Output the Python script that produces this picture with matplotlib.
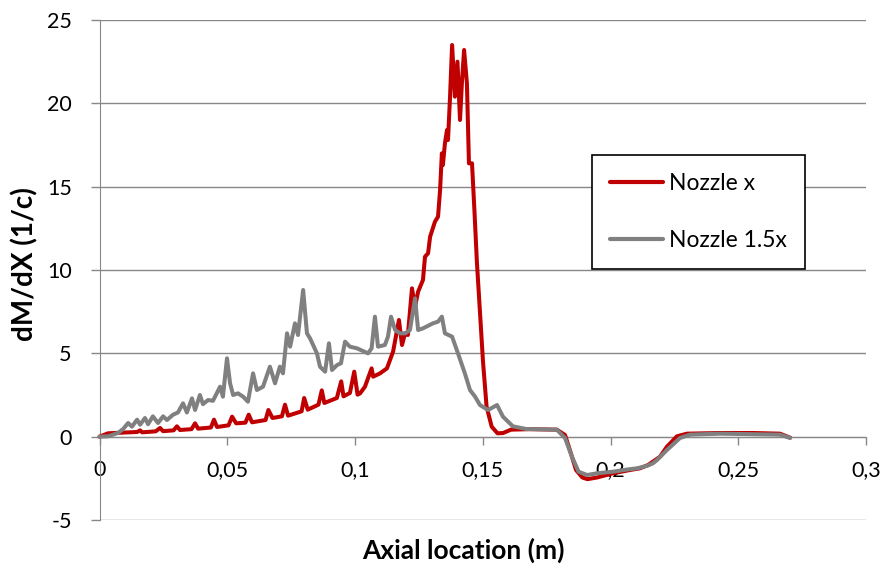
import matplotlib
matplotlib.use("Agg")
import matplotlib.pyplot as plt

plt.rcParams['font.family'] = ['Lato', 'DejaVu Sans']
plt.rcParams['axes.unicode_minus'] = False

# Axial location (m) for each series
x_nozzle = [0.0, 0.0033, 0.0100, 0.0147, 0.0159, 0.0167, 0.0220, 0.0237, 0.0249, 0.0290,
            0.0303, 0.0315, 0.0360, 0.0374, 0.0386, 0.0436, 0.0448, 0.0460, 0.0505, 0.0519,
            0.0535, 0.0571, 0.0584, 0.0597, 0.0650, 0.0661, 0.0677, 0.0714, 0.0726, 0.0738,
            0.0791, 0.0801, 0.0815, 0.0857, 0.0870, 0.0880, 0.0929, 0.0946, 0.0955, 0.0980,
            0.0997, 0.1010, 0.1020, 0.1039, 0.1065, 0.1071, 0.1098, 0.1125, 0.1137, 0.1149,
            0.1172, 0.1184, 0.1196, 0.1207, 0.1223, 0.1235, 0.1247, 0.1266, 0.1274, 0.1286,
            0.1294, 0.1313, 0.1325, 0.1333, 0.1340, 0.1344, 0.1352, 0.1360, 0.1364, 0.1372,
            0.1380, 0.1391, 0.1401, 0.1411, 0.1419, 0.1427, 0.1438, 0.1446, 0.1458, 0.1468,
            0.1477, 0.1489, 0.1501, 0.1515, 0.1535, 0.1558, 0.1580, 0.1610, 0.1685, 0.1790,
            0.1822, 0.1845, 0.1865, 0.1890, 0.1910, 0.1947, 0.2010, 0.2076, 0.2115, 0.2147,
            0.2166, 0.2194, 0.2221, 0.2260, 0.2299, 0.2429, 0.2558, 0.2663, 0.2703]
y_nozzle = [0.0, 0.20, 0.25, 0.28, 0.38, 0.26, 0.32, 0.52, 0.33, 0.38,
            0.62, 0.40, 0.45, 0.80, 0.48, 0.55, 1.02, 0.58, 0.68, 1.20,
            0.80, 0.84, 1.32, 0.86, 1.00, 1.60, 1.12, 1.22, 1.92, 1.26,
            1.52, 2.32, 1.62, 1.92, 2.78, 2.02, 2.32, 3.32, 2.42, 2.62,
            3.90, 2.52, 2.60, 3.00, 4.10, 3.60, 3.80, 4.10, 4.60, 5.10,
            7.00, 5.50, 6.20, 6.10, 8.90, 7.80, 8.70, 9.40, 10.8, 11.0,
            12.0, 12.9, 13.2, 14.8, 17.0, 16.3, 17.6, 18.4, 17.8, 20.4,
            23.5, 20.4, 22.5, 19.0, 21.4, 23.2, 21.2, 16.4, 16.4, 13.4,
            10.5, 7.50, 4.50, 1.80, 0.60, 0.20, 0.22, 0.42, 0.45, 0.42,
            0.10, -1.0, -2.0, -2.45, -2.55, -2.45, -2.2, -2.0, -1.9, -1.7,
            -1.5, -1.2, -0.6, 0.02, 0.18, 0.22, 0.22, 0.18, -0.06]

x_nozzle15 = [0.0, 0.0033, 0.0072, 0.0092, 0.0112, 0.0127, 0.0147, 0.0159, 0.0178, 0.0190,
              0.0209, 0.0229, 0.0249, 0.0264, 0.0288, 0.0307, 0.0327, 0.0342, 0.0362, 0.0374,
              0.0393, 0.0405, 0.0425, 0.0444, 0.0472, 0.0483, 0.0499, 0.0511, 0.0523, 0.0542,
              0.0562, 0.0581, 0.0601, 0.0616, 0.0640, 0.0667, 0.0687, 0.0706, 0.0718, 0.0734,
              0.0746, 0.0765, 0.0777, 0.0797, 0.0812, 0.0824, 0.0851, 0.0863, 0.0883, 0.0898,
              0.0910, 0.0930, 0.0945, 0.0961, 0.0980, 0.1008, 0.1051, 0.1065, 0.1078, 0.1090,
              0.1117, 0.1129, 0.1141, 0.1157, 0.1176, 0.1196, 0.1215, 0.1235, 0.1247, 0.1266,
              0.1305, 0.1325, 0.1340, 0.1352, 0.1380, 0.1403, 0.1430, 0.1450, 0.1470, 0.1489,
              0.1521, 0.1556, 0.1579, 0.1618, 0.1670, 0.1790, 0.1822, 0.1849, 0.1875, 0.1908,
              0.1947, 0.2010, 0.2076, 0.2104, 0.2143, 0.2166, 0.2182, 0.2221, 0.2272, 0.2311,
              0.2429, 0.2663, 0.2703]
y_nozzle15 = [0.0, 0.02, 0.22, 0.45, 0.82, 0.60, 1.02, 0.72, 1.12, 0.75,
              1.22, 0.82, 1.22, 1.00, 1.32, 1.45, 2.00, 1.45, 2.30, 1.60,
              2.50, 1.95, 2.20, 2.15, 3.00, 2.40, 4.70, 3.20, 2.50, 2.60,
              2.40, 2.10, 3.80, 2.80, 3.00, 4.20, 3.20, 4.20, 3.80, 6.20,
              5.40, 6.80, 6.10, 8.80, 6.20, 5.90, 5.00, 4.20, 3.90, 5.60,
              4.00, 4.30, 4.40, 5.70, 5.40, 5.30, 5.00, 5.30, 7.20, 5.40,
              5.50, 6.00, 7.20, 6.40, 6.20, 6.20, 6.40, 8.30, 6.40, 6.50,
              6.80, 6.90, 7.20, 6.20, 6.00, 5.00, 3.80, 2.80, 2.40, 1.90,
              1.60, 1.90, 1.20, 0.62, 0.46, 0.42, -0.08, -1.2, -2.1, -2.3,
              -2.2, -2.1, -1.95, -1.9, -1.75, -1.6, -1.4, -0.8, -0.08, 0.12,
              0.18, 0.12, -0.08]

x_ticks = [0, 0.05, 0.1, 0.15, 0.2, 0.25, 0.3]
x_tick_labels = ['0', '0,05', '0,1', '0,15', '0,2', '0,25', '0,3']
y_ticks = [-5, 0, 5, 10, 15, 20, 25]

grid_grey = '#888888'

fig = plt.figure(figsize=(8.84, 5.73), dpi=100)
ax = fig.add_axes([99.5 / 884, 53 / 573, 766.5 / 884, 500 / 573])

ax.plot(x_nozzle, y_nozzle, color='#C00000', lw=2.9, label='Nozzle x',
        solid_joinstyle='round', solid_capstyle='round', clip_on=False, zorder=3)
ax.plot(x_nozzle15, y_nozzle15, color='#808080', lw=2.9, label='Nozzle 1.5x',
        solid_joinstyle='round', solid_capstyle='round', clip_on=False, zorder=4)

ax.set_xlim(0, 0.3)
ax.set_ylim(-5, 25)
ax.set_xticks(x_ticks)
ax.set_xticklabels(x_tick_labels)
ax.set_yticks(y_ticks)

# horizontal grid, x axis crossing at zero
ax.yaxis.grid(True, color=grid_grey, lw=1)
ax.set_axisbelow(True)
for side in ['top', 'right']:
    ax.spines[side].set_visible(False)
ax.spines['bottom'].set_position(('data', 0))
ax.spines['bottom'].set_color(grid_grey)
ax.spines['left'].set_color(grid_grey)
ax.spines['bottom'].set_zorder(1)

ax.tick_params(axis='y', length=6.5, width=1, color=grid_grey, pad=13.5,
               labelsize=15.5, labelcolor='black')
ax.tick_params(axis='x', length=6, width=1, color=grid_grey, pad=11,
               labelsize=15.5, labelcolor='black', direction='out')

fig.text(463 / 884, 1 - 550 / 573, 'Axial location (m)', ha='center', va='center',
         fontsize=19, fontweight='bold')
fig.text(25 / 884, 1 - 264 / 573, 'dM/dX (1/c)', ha='center', va='center',
         rotation=90, fontsize=20, fontweight='bold')

leg = ax.legend(loc='upper left', bbox_to_anchor=(592 / 884, 1 - 155 / 573),
                bbox_transform=fig.transFigure, fontsize=16.5, frameon=True,
                fancybox=False, borderaxespad=0, borderpad=0.8, labelspacing=1.55,
                handlelength=2.3, handletextpad=0.27)
leg.get_frame().set_edgecolor('black')
leg.get_frame().set_linewidth(1.2)
leg.get_frame().set_alpha(1)
for line in leg.get_lines():
    line.set_linewidth(3)

fig.savefig('out.png', dpi=100)
